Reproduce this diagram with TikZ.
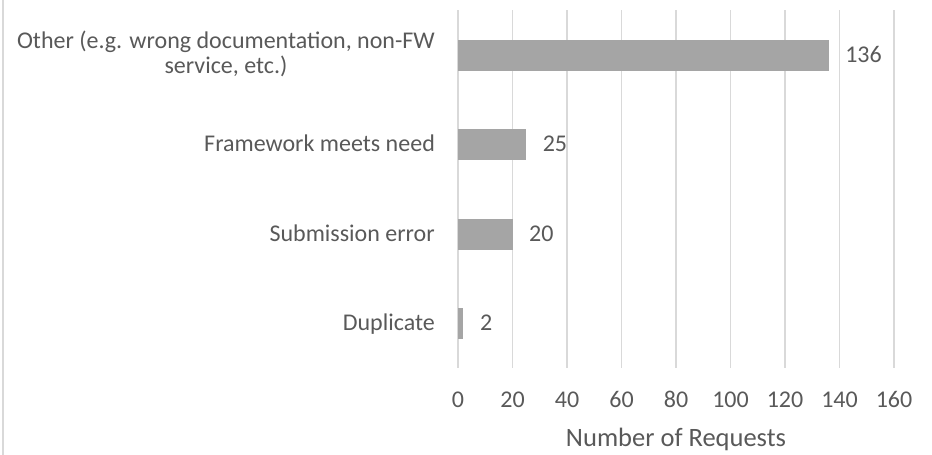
\documentclass[tikz,border=0pt]{standalone}
\usepackage{fontspec}
\setmainfont{Carlito}
\usepackage{xcolor}
\definecolor{txtgray}{HTML}{595959}
\definecolor{gridgray}{HTML}{D9D9D9}
\definecolor{bargray}{HTML}{A5A5A5}

\begin{document}
\begin{tikzpicture}[x=1pt, y=-1pt,
        lbl/.style={text=txtgray, inner sep=0pt, font=\fontsize{24}{25}\selectfont},
        ttl/.style={text=txtgray, inner sep=0pt, font=\fontsize{26.5}{30}\selectfont},
        gridline/.style={draw=gridgray, line width=1.8pt},
        bar/.style={fill=bargray}
    ]
    \useasboundingbox (0,0) rectangle (932,455);

    % chart border
    \draw[gridline] (3,0)--(3,455);

    % grid lines and ticks
    \foreach \v [count=\i] in {0,20,...,160}
        {
            \draw[gridline] ({458+\v*2.725},10)--({458+\v*2.725},368);
            \node[lbl, anchor=base] (tick\i) at ({458+\v*2.725},407) {\v};
        }

    % bars
    \foreach \val/\yc/\nm in {136/55/other, 25/144/meets, 20/234/suberr, 2/323/dup}
        {
            \fill[bar] (458,\yc-15.5) rectangle ({458+\val*2.725},\yc+15.5);
            \node[lbl, anchor=base west] (val-\nm) at ({474.5+\val*2.725},\yc+7.5) {\val};
        }

    % categories
    \node[lbl, anchor=east, align=center] (cat-other) at (435,53.5)
        {Other (e.g. wrong documentation, non-FW\\service, etc.)};
    \node[lbl, anchor=base east] (cat-meets) at (435,151.5) {Framework meets need};
    \node[lbl, anchor=base east] (cat-suberr) at (435,241.5) {Submission error};
    \node[lbl, anchor=base east] (cat-dup) at (435,330.5) {Duplicate};

    % axis title
    \node[ttl, anchor=base] (xtitle) at (676,446) {Number of Requests};
\end{tikzpicture}
\end{document}
